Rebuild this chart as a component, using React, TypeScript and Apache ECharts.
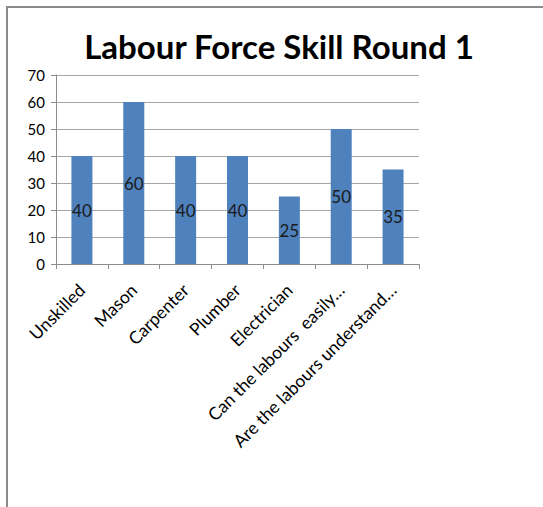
import React, { useEffect, useRef } from "react";
import * as echarts from "echarts";

const categories = [
  "Unskilled",
  "Mason",
  "Carpenter",
  "Plumber",
  "Electrician",
  "Can the labours  easily…",
  "Are the labours understand…",
];
const values = [40, 60, 40, 40, 25, 50, 35];
const titleText = "Labour Force Skill Round 1";

const FONT = "Lato, 'Open Sans', sans-serif";

export default function App() {
  const ref = useRef<HTMLDivElement>(null);

  useEffect(() => {
    if (!ref.current) return;
    const chart = echarts.init(ref.current, undefined, { renderer: "svg" });
    chart.setOption({
      animation: false,
      backgroundColor: "#ffffff",
      textStyle: { fontFamily: FONT },
      title: {
        text: titleText,
        left: 274,
        top: 24,
        textAlign: "center",
        textStyle: { fontFamily: FONT, fontSize: 33, fontWeight: "bold", color: "#000000" },
      },
      graphic: [
        {
          type: "line",
          shape: { x1: 6, y1: 7, x2: 543, y2: 7 },
          style: { stroke: "#8a8a8a", lineWidth: 2 },
        },
        {
          type: "line",
          shape: { x1: 7, y1: 6, x2: 7, y2: 507 },
          style: { stroke: "#8a8a8a", lineWidth: 2 },
        },
      ],
      grid: { left: 56, right: 124, top: 75, bottom: 243, containLabel: false },
      xAxis: {
        type: "category",
        data: categories,
        axisLine: { show: true, lineStyle: { color: "#8c8c8c", width: 1 } },
        axisTick: { show: true, alignWithLabel: false, length: 5, lineStyle: { color: "#8c8c8c" } },
        axisLabel: {
          rotate: 45,
          interval: 0,
          margin: 23,
          fontFamily: FONT,
          fontSize: 17.5,
          color: "#000000",
        },
      },
      yAxis: {
        type: "value",
        min: 0,
        max: 70,
        interval: 10,
        axisLine: { show: true, lineStyle: { color: "#8c8c8c", width: 1 } },
        axisTick: { show: true, length: 5, lineStyle: { color: "#8c8c8c" } },
        splitLine: { show: true, lineStyle: { color: "#a6a6a6", width: 1 } },
        axisLabel: { margin: 11, fontFamily: FONT, fontSize: 15, color: "#000000" },
      },
      series: [
        {
          type: "bar",
          data: values,
          barWidth: 21,
          itemStyle: { color: "#4f81bd" },
          label: {
            show: true,
            position: "inside",
            fontFamily: FONT,
            fontSize: 17,
            color: "#1a1a1a",
          },
        },
      ],
    });
    return () => chart.dispose();
  }, []);

  return (
    <div
      ref={ref}
      style={{ position: "absolute", left: 0, top: 0, width: 543, height: 507 }}
    />
  );
}
